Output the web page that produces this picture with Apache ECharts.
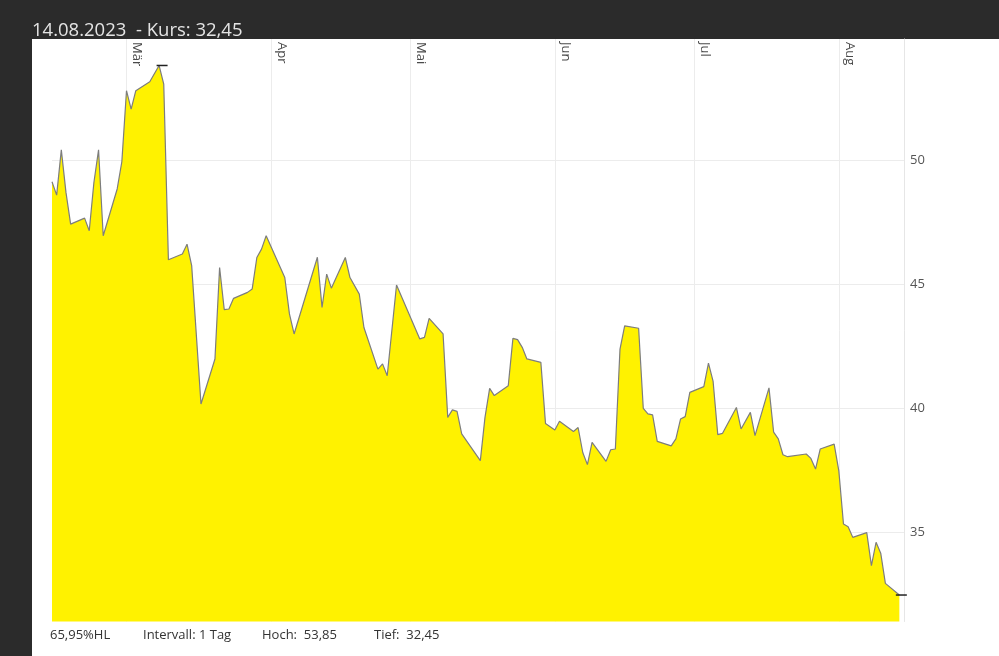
<!DOCTYPE html>
<html><head><meta charset="utf-8">
<script src="https://cdn.jsdelivr.net/npm/echarts@6/dist/echarts.min.js"></script>
<style>html,body{margin:0;padding:0;background:#2b2b2b;overflow:hidden}#c{width:999px;height:656px}</style>
</head><body><div id="c"></div><script>
const dates = [
 '2023-02-13','2023-02-14','2023-02-15','2023-02-16','2023-02-17',
 '2023-02-20','2023-02-21','2023-02-22','2023-02-23','2023-02-24',
 '2023-02-27','2023-02-28','2023-03-01','2023-03-02','2023-03-03',
 '2023-03-06','2023-03-08','2023-03-09','2023-03-10',
 '2023-03-13','2023-03-14','2023-03-15','2023-03-17',
 '2023-03-20','2023-03-21','2023-03-22','2023-03-23','2023-03-24',
 '2023-03-27','2023-03-28','2023-03-29','2023-03-30','2023-03-31',
 '2023-04-04','2023-04-05','2023-04-06',
 '2023-04-11','2023-04-12','2023-04-13','2023-04-14',
 '2023-04-17','2023-04-18','2023-04-20','2023-04-21',
 '2023-04-24','2023-04-25','2023-04-26','2023-04-28',
 '2023-05-03','2023-05-04','2023-05-05',
 '2023-05-08','2023-05-09','2023-05-10','2023-05-11','2023-05-12',
 '2023-05-16','2023-05-17','2023-05-18','2023-05-19',
 '2023-05-22','2023-05-23','2023-05-24','2023-05-25','2023-05-26',
 '2023-05-29','2023-05-30','2023-06-01','2023-06-02',
 '2023-06-05','2023-06-06','2023-06-07','2023-06-08','2023-06-09',
 '2023-06-12','2023-06-13','2023-06-14','2023-06-15','2023-06-16',
 '2023-06-19','2023-06-20','2023-06-21','2023-06-22','2023-06-23',
 '2023-06-26','2023-06-27','2023-06-28','2023-06-29','2023-06-30',
 '2023-07-03','2023-07-04','2023-07-05','2023-07-06','2023-07-07',
 '2023-07-10','2023-07-11','2023-07-13','2023-07-14',
 '2023-07-17','2023-07-18','2023-07-19','2023-07-20','2023-07-21',
 '2023-07-25','2023-07-26','2023-07-27','2023-07-28',
 '2023-07-31','2023-08-01','2023-08-02','2023-08-03','2023-08-04',
 '2023-08-07','2023-08-08','2023-08-09','2023-08-10','2023-08-11',
 '2023-08-14'
];
const prices = [
 49.15,48.61,50.44,48.72,47.44,
 47.68,47.17,49.12,50.44,46.97,
 48.86,49.96,52.83,52.09,52.83,
 53.19,53.85,53.10,46.00,
 46.23,46.63,45.76,40.17,
 41.99,45.68,43.98,44.01,44.44,
 44.68,44.82,46.09,46.43,46.97,
 45.28,43.81,43.00,
 46.10,44.07,45.42,44.85,
 46.09,45.28,44.61,43.26,
 41.58,41.79,41.31,44.98,
 42.80,42.86,43.63,
 43.00,39.63,39.93,39.87,38.96,
 37.88,39.63,40.80,40.51,
 40.91,42.82,42.77,42.46,41.99,
 41.85,39.38,39.12,39.47,
 39.06,39.22,38.21,37.72,38.62,
 37.85,38.32,38.35,42.39,43.33,
 43.23,39.99,39.77,39.73,38.66,
 38.48,38.76,39.56,39.66,40.64,
 40.87,41.82,41.08,38.93,38.98,
 40.03,39.16,39.83,38.89,
 40.82,39.03,38.76,38.12,38.04,
 38.15,37.97,37.54,38.35,
 38.55,37.47,35.32,35.21,34.78,
 34.97,33.64,34.58,34.14,32.92,
 32.45
];
const monthTicks = ['2023-03-01','2023-04-01','2023-05-01','2023-06-01','2023-07-01','2023-08-01'];
const monthLabels = ['Mär','Apr','Mai','Jun','Jul','Aug'];
const yTicks = [35, 40, 45, 50];
const xRange = ['2023-02-13', '2023-08-15'];
const yRange = [31.38, 54.92];
const titleText = '14.08.2023  - Kurs: 32,45';
const footerTexts = ['65,95%HL', 'Intervall: 1 Tag', 'Hoch:  53,85', 'Tief:  32,45'];
const footerX = [50, 143, 262, 374];

function ts(s){ const p = s.split('-').map(Number); return Date.UTC(p[0], p[1]-1, p[2]); }
const monthTs = monthTicks.map(ts);
const seriesData = dates.map((d,i)=>[ts(d), prices[i]]);
const FONT = '"Open Sans", "Noto Sans", sans-serif';

const chart = echarts.init(document.getElementById('c'), null, {renderer:'canvas'});
chart.setOption({
  animation: false,
  backgroundColor: '#2b2b2b',
  textStyle: { fontFamily: FONT },
  title: {
    text: titleText, left: 32, top: 21, padding: 0,
    textStyle: { color: '#e4e4e4', fontSize: 18.5, fontWeight: 'normal', fontFamily: FONT }
  },
  graphic: [
    { type: 'rect', z: -10, shape: { x: 32, y: 39, width: 967, height: 617 }, style: { fill: '#ffffff' }, silent: true }
  ].concat(footerTexts.map((t,i)=>({
    type: 'text', left: footerX[i], top: 629,
    style: { text: t, fill: '#333', font: '13px ' + FONT }
  }))),
  grid: { left: 52, right: 95, top: 39, bottom: 34.5 },
  xAxis: {
    type: 'value', position: 'top',
    min: ts(xRange[0]), max: ts(xRange[1]),
    axisLine: { show: false },
    axisTick: { show: false, customValues: monthTs },
    splitLine: { show: true, lineStyle: { color: '#ececec', width: 1 } },
    axisLabel: {
      customValues: monthTs, inside: true, rotate: 90, margin: 3,
      verticalAlign: 'bottom', padding: [0, 0, 4, 0],
      color: '#4a4a4a', fontSize: 13, fontFamily: FONT,
      formatter: function (v) { const i = monthTs.indexOf(v); return i >= 0 ? monthLabels[i] : ''; }
    }
  },
  yAxis: {
    type: 'value', position: 'right', min: yRange[0], max: yRange[1], scale: true,
    axisLine: { show: true, lineStyle: { color: '#e6e6e6' } },
    axisTick: { show: false, customValues: yTicks },
    splitLine: { show: true, lineStyle: { color: '#ececec' } },
    axisLabel: { customValues: yTicks, color: '#555', fontSize: 13, margin: 6, fontFamily: FONT }
  },
  series: [{
    type: 'line', data: seriesData, symbol: 'none',
    lineStyle: { color: '#7d7d7d', width: 1.2 },
    areaStyle: { color: '#fff200', opacity: 1 },
    markPoint: {
      symbol: 'rect', symbolSize: [11, 1.5], silent: true,
      itemStyle: { color: '#222' }, label: { show: false },
      data: [ { type: 'max', symbolOffset: [3, 0] }, { type: 'min', symbolOffset: [2, 0] } ]
    }
  }]
});
</script></body></html>
